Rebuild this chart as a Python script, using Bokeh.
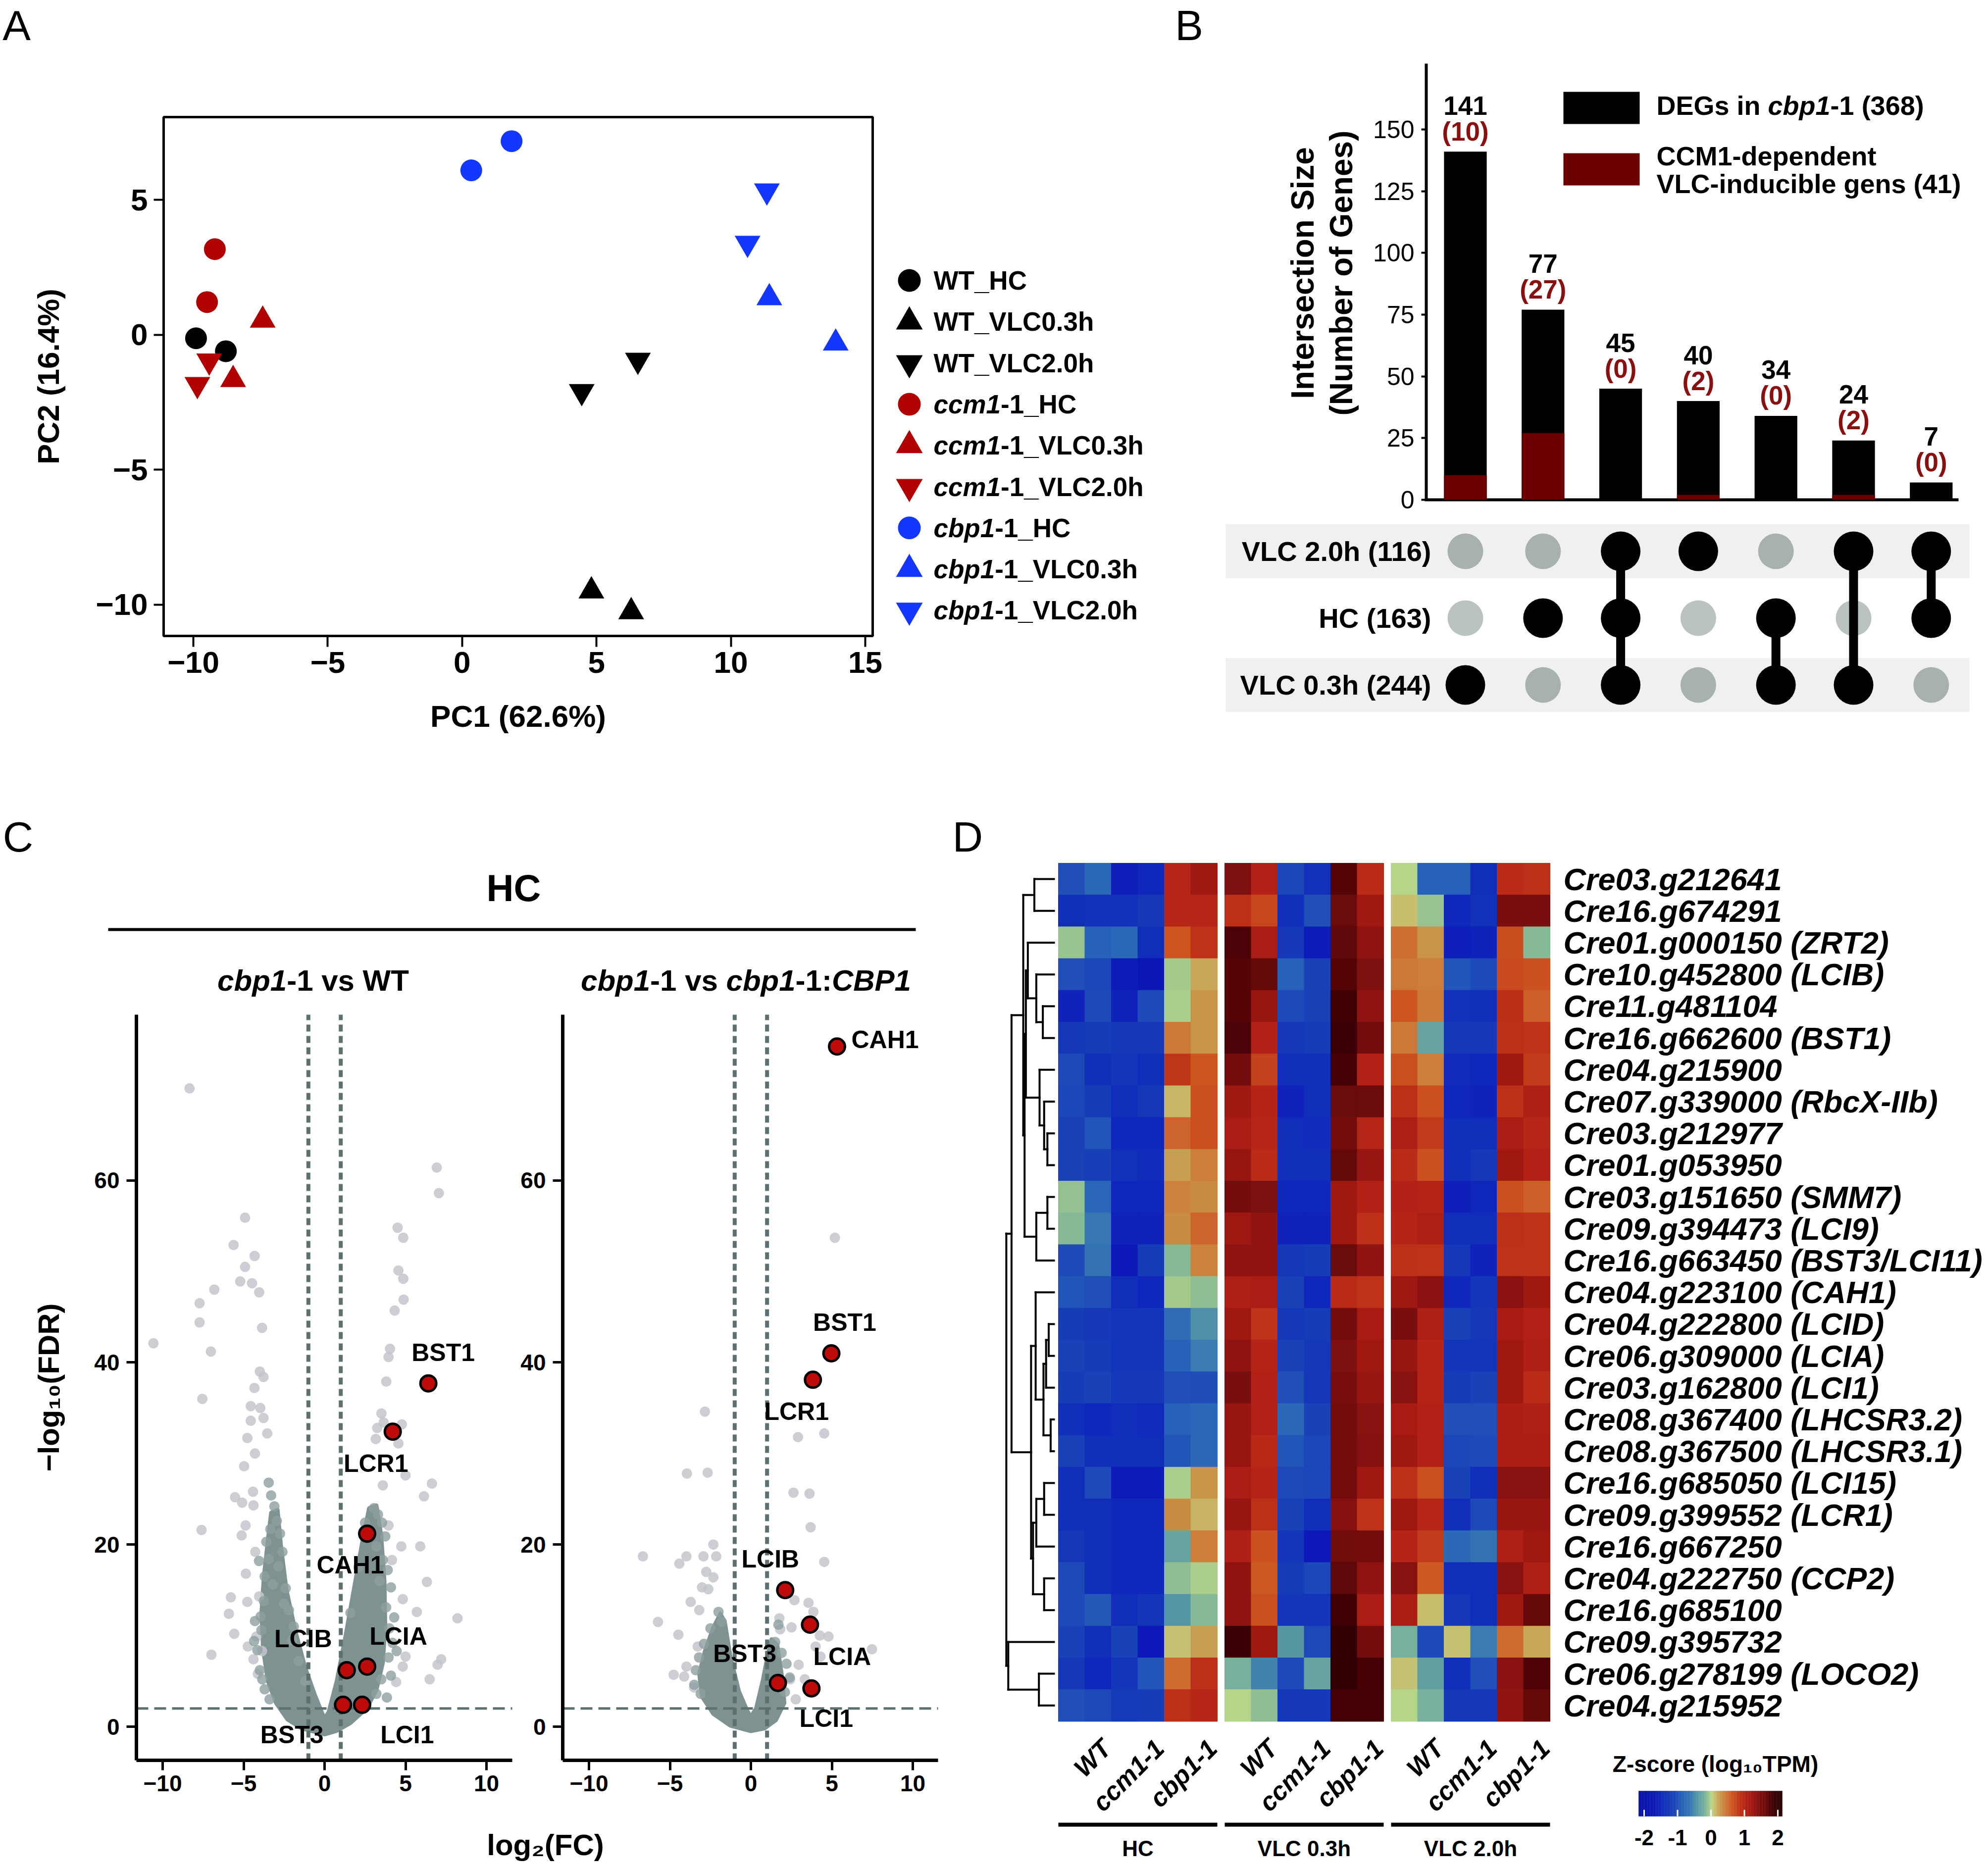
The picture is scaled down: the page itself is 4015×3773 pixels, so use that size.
import numpy as np
from bokeh.plotting import figure
from bokeh.models import Range1d, Label, FixedTicker, ColumnDataSource, LinearAxis
from bokeh.layouts import row, column
from bokeh.embed import file_html
from bokeh.resources import INLINE
from bokeh.transform import linear_cmap

FONT = "Liberation Sans"

# ======================= DATA =======================
# ---- Panel A : PCA ----
pca_groups = ["WT_HC", "WT_VLC0.3h", "WT_VLC2.0h",
              "ccm1-1_HC", "ccm1-1_VLC0.3h", "ccm1-1_VLC2.0h",
              "cbp1-1_HC", "cbp1-1_VLC0.3h", "cbp1-1_VLC2.0h"]
pca_sample_group = [g for g in pca_groups for _ in range(2)]
pca_pc1 = [-9.90, -8.79, 4.81, 6.29, 4.45, 6.54,
           -9.20, -9.49, -7.42, -8.52, -9.41, -9.85,
           0.34, 1.84, 11.43, 13.90, 11.34, 10.62]
pca_pc2 = [-0.13, -0.61, -9.49, -10.26, -2.10, -0.94,
           3.17, 1.21, 0.54, -1.66, -0.97, -1.84,
           6.09, 7.17, 1.37, -0.31, 5.33, 3.39]

# ---- Panel B : UpSet ----
upset_sets = ["VLC 2.0h (116)", "HC (163)", "VLC 0.3h (244)"]
upset_total = [141, 77, 45, 40, 34, 24, 7]
upset_ccm1 = [10, 27, 0, 2, 0, 2, 0]
upset_members = [[2], [1], [0, 1, 2], [0], [1, 2], [0, 2], [0, 1]]

# ---- Panel C : volcano plots ----
vl_grey_x = [-8.34, -10.57, -7.72, -7.72, -6.81, -7.02, -7.55, -7.6, -6.99, -4.91, -5.62, -4.91, -5.21, -4.48,
             -4.32, -4.04, -3.86, -4.0, -3.77, -4.33, -4.56, -3.97, -4.56, -3.77, -3.54, -4.77, -4.3, -4.97,
             -5.53, -5.09, -4.42, -4.39, -4.88, -5.12, -5.79, -5.91, -5.58, -4.77, -4.74, -4.39, -4.21, -4.86,
             -4.28, -4.04, -3.86, -4.12,
             6.93, 7.06, 4.51, 4.86, 4.56, 4.86, 4.88, 4.33, 4.04, 3.95, 3.81, 3.51, 3.65, 4.77, 3.25, 3.16,
             4.56, 5.0, 6.63, 6.14, 3.6, 3.95, 4.74, 5.91, 4.16, 6.32, 8.21, 5.7, 4.83, 5.0, 7.2, 6.98, 6.49,
             4.83, 4.42]
vl_grey_y = [70.1, 42.1, 46.5, 44.4, 48.0, 41.2, 36.0, 21.6, 7.9, 55.9, 52.9, 50.5, 48.9, 48.7,
             51.7, 47.7, 43.8, 39.0, 38.4, 37.2, 35.2, 35.0, 33.6, 33.9, 32.2, 31.7, 30.0, 28.6,
             25.2, 24.6, 25.8, 24.3, 22.1, 21.0, 14.2, 12.4, 10.2, 13.7, 8.8, 7.4, 9.9, 16.8,
             19.2, 14.3, 8.3, 5.8,
             61.4, 58.6, 54.8, 53.7, 50.1, 49.2, 46.9, 45.7, 41.5, 40.6, 37.9, 34.4, 33.4, 33.2, 32.8, 31.6,
             31.1, 27.6, 26.7, 25.3, 26.5, 22.1, 19.8, 19.8, 18.3, 15.9, 11.9, 12.6, 14.0, 7.7, 7.4, 6.8, 5.2,
             6.6, 4.9]
vl_mid_x = [-3.45, -3.3, -3.1, -2.95, -3.35, -2.75, -3.6, -2.6, -3.45, -2.85, -3.7, -3.2, -2.4, -3.75, -3.95,
            -2.2, -3.9, -4.3, -4.15, -4.0, -3.7, -3.4, -2.0, -1.6, -1.2, -4.05, -4.35, -3.85, -2.5, -1.9,
            3.05, 3.3, 3.55, 3.75, 3.2, 3.6, 3.9, 3.4, 4.1, 3.8, 4.3, 4.0, 4.2, 3.95, 3.5, 3.2, 2.5, 2.1, 1.6,
            4.45, 4.1, 3.85]
vl_mid_y = [26.8, 25.4, 24.2, 22.6, 21.7, 21.2, 20.3, 19.2, 18.4, 17.6, 16.5, 15.6, 15.2, 13.8, 12.1,
            12.8, 10.6, 11.6, 8.4, 6.2, 4.1, 3.0, 9.5, 7.2, 5.0, 18.2, 9.4, 5.2, 13.5, 11.0,
            24.0, 23.3, 22.4, 20.9, 19.8, 18.3, 17.2, 16.0, 15.3, 13.1, 12.0, 10.8, 9.2, 7.6, 5.2, 3.6, 22.4,
            17.5, 12.5, 8.3, 5.6, 3.2]
vl_core_x = [0, -1.4, -2.3, -3.0, -3.5, -3.8, -3.9, -3.75, -3.5, -3.3, -2.9, -2.7, -2.35, -1.8, -1.2,
             -0.6, -0.15, 0, 0.25, 0.75, 1.3, 1.85, 2.35, 2.75, 3.2, 3.5, 3.7, 3.75, 3.6, 3.2, 2.6, 1.6, 0.7]
vl_core_y = [-0.85, -0.2, 0.8, 2.6, 5.0, 8.5, 12.5, 16.5, 20.5, 23.5, 23.8, 20.0, 15.0, 10.5, 6.5,
             3.5, 1.5, 0.9, 1.6, 5.0, 10.0, 15.5, 20.5, 24.0, 24.3, 21.0, 16.0, 11.0, 7.0, 4.0, 2.0, 0.4, -0.5]
vl_hl_names = ["BST1", "LCR1", "CAH1", "LCIA", "LCIB", "BST3", "LCI1"]
vl_hl_x = [6.41, 4.21, 2.63, 2.63, 1.37, 1.14, 2.32]
vl_hl_y = [37.7, 32.4, 21.2, 6.6, 6.2, 2.4, 2.4]

vr_grey_x = [5.19, -2.84, -3.95, -2.67, 2.91, 4.53, 2.63, 3.62, 3.69, 4.53, -6.67, -5.74, -4.42, -3.98, -2.93,
             -2.32, -2.14, -2.76, -2.32, -3.02, -3.72, -2.63, -4.48, -3.19, -3.98, -4.77, -4.12, -3.51, -3.28,
             7.48, 4.79, 4.26, 2.69, 3.56, 3.86, 4.0, 2.95, 3.33, 1.76, 1.81, 2.51, 4.3, 2.42, 2.77]
vr_grey_y = [53.7, 34.6, 27.8, 27.9, 31.8, 32.2, 25.7, 25.6, 21.9, 18.1, 18.7, 11.5, 17.9, 18.7, 18.7,
             20.0, 18.7, 17.0, 16.4, 15.3, 13.7, 15.1, 10.1, 12.8, 6.6, 5.7, 5.5, 4.3, 8.8,
             8.5, 9.9, 10.0, 13.9, 13.6, 12.6, 8.8, 6.8, 5.2, 11.9, 10.7, 10.9, 7.7, 5.2, 3.0]
vr_mid_x = [-2.0, -1.8, -2.5, -2.9, -3.2, -3.4, -3.5, -3.1, 1.5, 1.9, 2.2, 2.4, 2.1, 1.7]
vr_mid_y = [12.6, 11.5, 10.8, 9.1, 7.6, 6.2, 4.6, 3.6, 9.3, 8.1, 6.9, 5.4, 3.8, 11.2]
vr_core_x = [0, -1.26, -2.32, -3.02, -3.19, -2.84, -2.32, -1.88, -1.61, -1.26, -0.74, -0.21, 0, 0.32,
             0.75, 1.02, 1.28, 1.63, 1.9, 2.07, 1.54, 0.84]
vr_core_y = [-0.5, 0.1, 1.4, 3.3, 5.8, 8.3, 10.9, 12.4, 11.5, 7.7, 3.9, 1.7, 1.1, 2.0,
             5.2, 7.7, 9.6, 9.0, 5.8, 2.6, 0.7, -0.2]
vr_hl_names = ["CAH1", "BST1", "LCR1", "LCIB", "LCIA", "BST3", "LCI1"]
vr_hl_x = [5.32, 4.97, 3.83, 2.12, 3.65, 1.67, 3.74]
vr_hl_y = [74.7, 41.0, 38.1, 15.0, 11.2, 4.8, 4.2]

# ---- Panel D : heatmap ----
heat_genes = ["Cre03.g212641", "Cre16.g674291", "Cre01.g000150 (ZRT2)", "Cre10.g452800 (LCIB)",
              "Cre11.g481104", "Cre16.g662600 (BST1)", "Cre04.g215900", "Cre07.g339000 (RbcX-IIb)",
              "Cre03.g212977", "Cre01.g053950", "Cre03.g151650 (SMM7)", "Cre09.g394473 (LCI9)",
              "Cre16.g663450 (BST3/LCI11)", "Cre04.g223100 (CAH1)", "Cre04.g222800 (LCID)",
              "Cre06.g309000 (LCIA)", "Cre03.g162800 (LCI1)", "Cre08.g367400 (LHCSR3.2)",
              "Cre08.g367500 (LHCSR3.1)", "Cre16.g685050 (LCI15)", "Cre09.g399552 (LCR1)",
              "Cre16.g667250", "Cre04.g222750 (CCP2)", "Cre16.g685100", "Cre09.g395732",
              "Cre06.g278199 (LOCO2)", "Cre04.g215952"]
heat_conditions = ["HC", "VLC 0.3h", "VLC 2.0h"]
heat_strains = ["WT", "ccm1-1", "cbp1-1"]
# z-scores, columns WT, WT, ccm1-1, ccm1-1, cbp1-1, cbp1-1
heat_z_hc = [
    [-1.0, -0.8, -1.6, -1.5, 1.0, 1.25], [-1.4, -1.35, -1.35, -1.25, 1.0, 1.0],
    [-0.08, -0.85, -0.8, -1.4, 0.65, 0.88], [-1.0, -1.1, -1.65, -1.8, -0.05, 0.22],
    [-1.55, -1.05, -1.55, -1.05, -0.02, 0.3], [-1.25, -1.2, -1.25, -1.25, 0.45, 0.3],
    [-1.05, -1.4, -1.3, -1.4, 0.85, 0.65], [-1.1, -1.2, -1.4, -1.25, 0.15, 0.68],
    [-1.15, -0.95, -1.5, -1.5, 0.55, 0.68], [-1.15, -1.18, -1.35, -1.45, 0.25, 0.42],
    [-0.1, -0.82, -1.5, -1.5, 0.4, 0.35], [-0.15, -0.65, -1.55, -1.55, 0.35, 0.55],
    [-1.05, -0.68, -1.7, -1.2, -0.15, 0.4], [-0.95, -1.0, -1.4, -1.5, -0.05, -0.12],
    [-1.2, -1.25, -1.3, -1.3, -0.75, -0.45], [-1.15, -1.2, -1.3, -1.3, -0.85, -0.6],
    [-1.2, -1.15, -1.25, -1.25, -1.0, -1.02], [-1.4, -1.5, -1.4, -1.45, -0.85, -0.78],
    [-1.15, -1.4, -1.4, -1.4, -0.95, -0.78], [-1.4, -1.05, -1.65, -1.65, -0.02, 0.3],
    [-1.4, -1.4, -1.5, -1.5, 0.35, 0.17], [-1.25, -1.4, -1.5, -1.5, -0.3, 0.42],
    [-1.05, -1.4, -1.5, -1.5, -0.12, -0.02], [-1.05, -0.92, -1.4, -1.3, -0.42, -0.15],
    [-1.15, -1.4, -1.15, -1.7, 0.1, 0.25], [-1.25, -1.5, -1.3, -0.95, 0.52, 0.9],
    [-1.0, -1.08, -1.22, -1.2, 0.9, 0.98]]
heat_z_vlc03 = [
    [1.45, 1.05, -1.1, -1.35, 1.75, 0.95], [0.9, 0.75, -1.4, -1.0, 1.6, 1.25],
    [1.8, 1.15, -1.25, -1.65, 1.7, 1.35], [1.75, 1.65, -0.85, -1.15, 1.75, 1.45],
    [1.75, 1.3, -1.05, -1.15, 1.88, 1.35], [1.8, 1.05, -1.25, -1.2, 1.92, 1.55],
    [1.55, 0.78, -1.4, -1.4, 1.85, 1.05], [1.25, 1.02, -1.55, -1.4, 1.6, 1.6],
    [1.15, 1.0, -1.4, -1.45, 1.55, 1.0], [1.3, 0.95, -1.4, -1.4, 1.65, 1.3],
    [1.55, 1.45, -1.5, -1.5, 1.25, 1.08], [1.25, 1.35, -1.55, -1.55, 1.25, 0.9],
    [1.35, 1.35, -1.25, -1.2, 1.6, 1.35], [1.1, 1.15, -1.15, -1.5, 0.95, 0.88],
    [1.25, 0.88, -1.25, -1.2, 1.55, 1.18], [1.35, 1.03, -1.15, -1.25, 1.45, 1.25],
    [1.5, 1.05, -1.0, -1.25, 1.5, 1.3], [1.3, 1.05, -0.78, -1.15, 1.55, 1.4],
    [1.3, 0.97, -0.95, -1.1, 1.55, 1.42], [1.15, 1.02, -1.05, -1.1, 1.55, 1.25],
    [1.3, 0.9, -1.15, -1.4, 1.42, 0.88], [1.1, 0.66, -1.3, -1.7, 1.58, 1.55],
    [1.35, 0.62, -1.2, -1.1, 1.7, 1.35], [1.35, 0.68, -1.3, -1.3, 1.88, 1.15],
    [1.92, 1.25, -0.4, -1.08, 2.0, 1.55], [-0.2, -0.55, -1.05, -0.3, 2.0, 1.83],
    [0.0, -0.12, -1.25, -1.25, 1.85, 1.85]]
heat_z_vlc20 = [
    [0.0, -0.85, -0.85, -1.4, 0.95, 0.9], [0.12, -0.08, -1.5, -1.35, 1.5, 1.5],
    [0.5, 0.3, -1.6, -1.55, 0.7, -0.15], [0.45, 0.42, -0.95, -1.05, 0.72, 0.66],
    [0.65, 0.45, -1.35, -1.4, 0.92, 0.6], [0.45, -0.3, -1.25, -1.25, 0.9, 0.88],
    [0.68, 0.42, -1.45, -1.5, 1.25, 0.82], [0.9, 0.66, -1.5, -1.55, 0.9, 1.1],
    [1.1, 0.82, -1.4, -1.4, 1.15, 1.0], [0.93, 0.66, -1.4, -1.25, 1.25, 1.05],
    [1.05, 1.02, -1.6, -1.5, 0.68, 0.6], [1.03, 1.1, -1.4, -1.4, 0.9, 0.88],
    [0.9, 0.88, -1.25, -1.55, 0.88, 0.88], [1.25, 1.38, -1.5, -1.3, 1.38, 1.25],
    [1.5, 1.1, -1.15, -1.25, 1.18, 1.05], [1.3, 1.03, -1.3, -1.3, 1.25, 1.1],
    [1.4, 1.03, -1.2, -1.15, 1.25, 0.93], [1.18, 1.05, -1.0, -1.0, 1.12, 1.1],
    [1.25, 1.05, -1.1, -1.05, 1.12, 1.12], [0.9, 0.68, -1.15, -1.4, 1.4, 1.4],
    [1.25, 1.0, -1.4, -1.05, 1.3, 1.3], [1.03, 0.82, -0.78, -0.68, 1.1, 1.25],
    [1.4, 0.62, -1.4, -1.4, 1.4, 1.1], [1.12, 0.12, -1.25, -1.4, 1.25, 1.65],
    [-0.2, -1.05, 0.1, -0.6, 0.53, 0.22], [0.1, -0.35, -1.4, -1.0, 1.38, 1.78],
    [0.0, -0.2, -1.25, -1.25, 1.35, 1.65]]
# row dendrogram: (child_a, child_b, height); leaves 0..26, new nodes numbered from 27
dendro_merges = [(0, 1, 30), (4, 5, 17), (3, 28, 27), (2, 29, 40), (8, 9, 10), (7, 31, 15), (6, 32, 22),
                 (30, 33, 43), (10, 11, 10), (35, 12, 27), (34, 36, 45), (27, 37, 47), (14, 15, 8),
                 (39, 16, 12), (17, 18, 5), (40, 41, 16), (13, 42, 28), (19, 20, 15), (44, 21, 27),
                 (22, 23, 15), (45, 46, 32), (43, 47, 35), (38, 48, 65), (25, 26, 23), (24, 50, 70),
                 (49, 51, 73)]
zscore_ticks = [-2, -1, 0, 1, 2]

# ======================= STYLE HELPERS =======================
CW = {' ': .278, '(': .333, ')': .333, '-': .333, '.': .278, ':': .333, '/': .278, '_': .556, '%': .889,
      '\u2212': .584}
for ch in "0123456789":
    CW[ch] = .556
CW.update({'a': .556, 'b': .611, 'c': .556, 'd': .611, 'e': .556, 'f': .333, 'g': .611, 'h': .611, 'i': .278,
           'j': .278, 'k': .556, 'l': .278, 'm': .889, 'n': .611, 'o': .611, 'p': .611, 'q': .611, 'r': .389,
           's': .556, 't': .333, 'u': .611, 'v': .556, 'w': .778, 'x': .556, 'y': .556, 'z': .5,
           'A': .722, 'B': .722, 'C': .722, 'D': .722, 'E': .667, 'F': .611, 'G': .778, 'H': .722, 'I': .278,
           'J': .556, 'K': .722, 'L': .611, 'M': .833, 'N': .722, 'O': .778, 'P': .667, 'Q': .778, 'R': .722,
           'S': .667, 'T': .611, 'U': .722, 'V': .667, 'W': .944, 'X': .667, 'Y': .667, 'Z': .611})


def tw(s, size):
    return sum(CW.get(c, 0.6) for c in s) * size


def txt(p, x, y, text, size, style="bold", align="center", baseline="middle", color="black", angle=0.0, **kw):
    p.add_layout(Label(x=x, y=y, text=text, text_font=FONT, text_font_size=f"{size}px",
                       text_font_style=style, text_color=color, text_align=align,
                       text_baseline=baseline, angle=angle, **kw))


def mtext(p, x, y, segs, size, align="center", color="black", **kw):
    total = sum(tw(t, size) for t, _ in segs)
    acc = {"left": 0.0, "center": -total / 2.0, "right": -total}[align]
    for t, st in segs:
        p.add_layout(Label(x=x, y=y, x_offset=acc, text=t, text_font=FONT, text_font_size=f"{size}px",
                           text_font_style=st, text_color=color, text_align="left", text_baseline="middle",
                           **kw))
        acc += tw(t, size)


def fig(w, h, xr, yr, axes=True, **kw):
    args = dict(width=w, height=h, x_range=Range1d(*xr), y_range=Range1d(*yr), output_backend="svg",
                toolbar_location=None, min_border_left=0, min_border_right=0, min_border_top=0,
                min_border_bottom=0)
    if not axes:
        args.update(x_axis_type=None, y_axis_type=None)
    args.update(kw)
    p = figure(**args)
    p.outline_line_color = None
    p.background_fill_color = "white"
    p.border_fill_color = "white"
    if axes:
        p.grid.visible = False
    return p


def style_axis(ax, size, style="bold", tick_out=20, tick_w=4, line_w=0, standoff=12,
               label=None, label_size=60, label_standoff=10):
    ax.major_label_text_font = FONT
    ax.major_label_text_font_size = f"{size}px"
    ax.major_label_text_font_style = style
    ax.major_label_text_color = "black"
    ax.major_tick_out = tick_out
    ax.major_tick_in = 0
    ax.major_tick_line_width = tick_w
    ax.major_tick_line_color = "black"
    ax.minor_tick_line_color = None
    if line_w:
        ax.axis_line_width = line_w
        ax.axis_line_color = "black"
    else:
        ax.axis_line_color = None
    ax.major_label_standoff = standoff
    if label is not None:
        ax.axis_label = label
        ax.axis_label_text_font = FONT
        ax.axis_label_text_font_size = f"{label_size}px"
        ax.axis_label_text_font_style = "bold"
        ax.axis_label_text_color = "black"
        ax.axis_label_standoff = label_standoff


MINUS = {-10: "\u221210", -5: "\u22125"}

# ======================= PANEL A (PCA + legend) =======================
AXPX, AYPX = 54.28, 54.53
WA = 2360
ax_ = lambda px: -10 + (px - 390) / AXPX
ay_ = lambda py: 5 - (py - 403) / AYPX
pA = fig(WA, 1560, (ax_(0), ax_(WA)), (ay_(1560), ay_(0)))
BOX = dict(l=ax_(330), r=ax_(1762), b=ay_(1284), t=ay_(236))
pA.quad(left=[BOX["l"]], right=[BOX["r"]], bottom=[BOX["b"]], top=[BOX["t"]], fill_color=None,
        line_color="black", line_width=5)
pA.xaxis.fixed_location = BOX["b"]
pA.yaxis.fixed_location = BOX["l"]
pA.xaxis.bounds = (BOX["l"], BOX["r"])
pA.yaxis.bounds = (BOX["b"], BOX["t"])
pA.xaxis.ticker = FixedTicker(ticks=[-10, -5, 0, 5, 10, 15])
pA.yaxis.ticker = FixedTicker(ticks=[-10, -5, 0, 5])
pA.xaxis.major_label_overrides = MINUS
pA.yaxis.major_label_overrides = MINUS
style_axis(pA.xaxis[0], 62, tick_out=22, standoff=10, label="PC1 (62.6%)", label_size=62, label_standoff=50)
style_axis(pA.yaxis[0], 62, tick_out=20, standoff=12, label="PC2 (16.4%)", label_size=62, label_standoff=58)

MARK = {"HC": "circle", "VLC0.3h": "triangle", "VLC2.0h": "inverted_triangle"}
MSIZE = {"HC": 44, "VLC0.3h": 52, "VLC2.0h": 52}
GCOL = {"WT": "#000000", "ccm1-1": "#B00000", "cbp1-1": "#1437FF"}
srcA = ColumnDataSource(dict(
    x=pca_pc1, y=pca_pc2,
    marker=[MARK[g.split("_")[1]] for g in pca_sample_group],
    size=[MSIZE[g.split("_")[1]] for g in pca_sample_group],
    color=[GCOL[g.split("_")[0]] for g in pca_sample_group]))
pA.scatter(x="x", y="y", marker="marker", size="size", fill_color="color", line_color=None, source=srcA)
txt(pA, ax_(33), ay_(51), "A", 85, style="normal")
for i, g in enumerate(pca_groups):
    yy = ay_(566 + 83.3 * i)
    geno, cond = g.split("_")
    pA.scatter([ax_(1836)], [yy], marker=MARK[cond], size=MSIZE[cond] + 2, fill_color=GCOL[geno],
               line_color=None)
    if geno == "WT":
        segs = [(g, "bold")]
    else:
        segs = [(geno[:-2], "bold italic"), (geno[-2:] + "_" + cond, "bold")]
    mtext(pA, ax_(1885), yy, segs, 53, align="left")

# ======================= PANEL B (UpSet) =======================
BPX = 156.8       # px per intersection
BPY = 4.987       # px per gene
bx = lambda px: 1 + (px - 2959) / BPX
by = lambda py: (1009 - py) / BPY
br = lambda py: (py - 1113) / 135.0
pB = fig(4015 - WA, 1560, (bx(WA), bx(4015)), (by(1560), by(0)), x_axis_location=None)
pB.extra_y_ranges = {"rows": Range1d(br(1560), br(0))}
pB.yaxis.fixed_location = bx(2880)
pB.yaxis.bounds = (0, by(128))
pB.yaxis.ticker = FixedTicker(ticks=[0, 25, 50, 75, 100, 125, 150])
style_axis(pB.yaxis[0], 50, style="normal", tick_out=10, tick_w=4, line_w=6, standoff=14)
xs = list(range(1, len(upset_total) + 1))
pB.segment(x0=[bx(2877)], x1=[bx(3955)], y0=[0], y1=[0], line_color="black", line_width=6)
pB.vbar(x=xs, top=upset_total, width=0.55, fill_color="black", line_color=None)
pB.vbar(x=xs, top=upset_ccm1, width=0.55, fill_color="#6B0000", line_color=None)
for xi, t, c in zip(xs, upset_total, upset_ccm1):
    txt(pB, xi, t + 93 / BPY, str(t), 53)
    txt(pB, xi, t + 41 / BPY, f"({c})", 53, color="#8A1010")
pB.quad(left=[bx(3157)], right=[bx(3311)], top=[by(185)], bottom=[by(250)], fill_color="black", line_color=None)
pB.quad(left=[bx(3157)], right=[bx(3311)], top=[by(309)], bottom=[by(374)], fill_color="#6B0000",
        line_color=None)
mtext(pB, bx(3345), by(212), [("DEGs in ", "bold"), ("cbp1", "bold italic"), ("-1 (368)", "bold")], 54,
      align="left")
mtext(pB, bx(3345), by(314), [("CCM1-dependent", "bold")], 54, align="left")
mtext(pB, bx(3345), by(370), [("VLC-inducible gens (41)", "bold")], 54, align="left")
txt(pB, bx(2630), by(551), "Intersection Size", 64, angle=np.pi / 2)
txt(pB, bx(2708), by(551), "(Number of Genes)", 64, angle=np.pi / 2)
txt(pB, bx(2401), by(51), "B", 85, style="normal")

# matrix
pB.hbar(y=[0, 2], left=bx(2475), right=bx(3977), height=109 / 135.0, fill_color="#F0F0F2", line_color=None,
        y_range_name="rows")
for xi, mem in zip(xs, upset_members):
    for r in range(len(upset_sets)):
        if r not in mem:
            pB.scatter([xi], [r], size=72, fill_color="#BAC2C2" if r == 1 else "#A7B2B0", line_color=None,
                       y_range_name="rows")
    if len(mem) > 1:
        pB.segment(x0=[xi], x1=[xi], y0=[min(mem)], y1=[max(mem)], line_color="black", line_width=18,
                   y_range_name="rows")
    pB.scatter([xi] * len(mem), mem, size=80, fill_color="black", line_color=None, y_range_name="rows")
for r, s in enumerate(upset_sets):
    txt(pB, bx(2890), r, s, 56, align="right", y_range_name="rows")

# ======================= PANEL C (volcano plots) =======================
VPX, VPY = 32.7, 18.39
pC = fig(1920, 2213, (0, 1920), (3773, 1560), axes=False)
v1 = lambda px: (px - 655) / VPX
v2 = lambda px: (px - 1516) / VPX
vy = lambda py: (3487 - py) / VPY
pC.extra_x_ranges = {"v1": Range1d(v1(0), v1(1920)), "v2": Range1d(v2(0), v2(1920))}
pC.extra_y_ranges = {"vy": Range1d(vy(3773), vy(1560))}

txt(pC, 36, 1690, "C", 85, style="normal")
txt(pC, 1037, 1793, "HC", 76)
pC.segment(x0=[218], x1=[1849], y0=[1877], y1=[1877], line_color="black", line_width=6)
mtext(pC, 632, 1980, [("cbp1", "bold italic"), ("-1 vs WT", "bold")], 60)
mtext(pC, 1506, 1980, [("cbp1", "bold italic"), ("-1 vs ", "bold"), ("cbp1", "bold italic"), ("-1:", "bold"),
                       ("CBP1", "bold italic")], 60)
txt(pC, 1101, 3726, "log\u2082(FC)", 60)

LBL_OFF_L = {"BST1": (30, 62), "LCR1": (-34, -64), "CAH1": (-34, -63), "LCIA": (63, 61),
             "LCIB": (-88, 63), "BST3": (-103, -61), "LCI1": (91, -61)}
LBL_OFF_R = {"CAH1": (29, 14), "BST1": (27, 63), "LCR1": (-33, -64), "LCIB": (-30, 63),
             "LCIA": (65, -64), "BST3": (-67, 59), "LCI1": (30, -61)}


def volcano(xr, fx, left_px, right_px, gx, gy, mx, my, cx, cy, names, hx, hy, offs, ylabel, left_names=()):
    xlo, xhi = fx(left_px), fx(right_px)
    ylo, yhi = vy(3555), vy(2049)
    rn = dict(x_range_name=xr, y_range_name="vy")
    xa = LinearAxis(fixed_location=ylo, bounds=(xlo, xhi), ticker=FixedTicker(ticks=[-10, -5, 0, 5, 10]),
                    major_label_overrides=MINUS, **rn)
    ya = LinearAxis(fixed_location=xlo, bounds=(ylo, yhi), ticker=FixedTicker(ticks=[0, 20, 40, 60]), **rn)
    style_axis(xa, 46, tick_out=20, tick_w=5, line_w=7, standoff=10)
    style_axis(ya, 46, tick_out=20, tick_w=5, line_w=7, standoff=14,
               label=ylabel, label_size=60, label_standoff=55)
    if ylabel is None:
        ya.axis_label = None
    pC.add_layout(xa, "below")
    pC.add_layout(ya, "left")
    pC.patch(cx, cy, fill_color="#7E9292", line_color="#7E9292", line_width=8, line_join="round", **rn)
    pC.scatter(gx, gy, size=21, fill_color="#C3C6CD", fill_alpha=0.85, line_color=None, **rn)
    pC.scatter(mx, my, size=21, fill_color="#8E9FA0", fill_alpha=0.8, line_color=None, **rn)
    pC.segment(x0=[-1, 1], x1=[-1, 1], y0=[ylo, ylo], y1=[yhi, yhi], line_color="#5D7070",
               line_width=8, line_dash="14 9", **rn)
    pC.segment(x0=[xlo], x1=[xhi], y0=[2], y1=[2], line_color="#5D7070", line_width=5, line_dash="24 12", **rn)
    pC.scatter(hx, hy, size=32, fill_color="#BF0A0A", line_color="black", line_width=5, **rn)
    for n, x, y in zip(names, hx, hy):
        dx, dy = offs[n]
        txt(pC, x + dx / VPX, y + dy / VPY, n, 50, align="left" if n in left_names else "center", **rn)


volcano("v1", v1, 275, 1034, vl_grey_x, vl_grey_y, vl_mid_x, vl_mid_y, vl_core_x, vl_core_y,
        vl_hl_names, vl_hl_x, vl_hl_y, LBL_OFF_L, "\u2212log\u2081\u2080(FDR)")
volcano("v2", v2, 1136, 1894, vr_grey_x, vr_grey_y, vr_mid_x, vr_mid_y, vr_core_x, vr_core_y,
        vr_hl_names, vr_hl_x, vr_hl_y, LBL_OFF_R, None, left_names=("CAH1",))

# ======================= PANEL D (heatmap) =======================
CWD, RHD = 53.5, 64.2
dx_ = lambda px: (px - 2137) / CWD
dy_ = lambda py: (py - 1743) / RHD
pD = fig(2095, 2213, (dx_(1920), dx_(4015)), (dy_(3773), dy_(1560)), axes=False)
GAP = 15 / CWD

anchors = [(-2.2, "#0810a8"), (-1.7, "#0c18b8"), (-1.5, "#1028bc"), (-1.25, "#1438b8"), (-1.0, "#2050b8"),
           (-0.8, "#2a68b8"), (-0.6, "#3a7ab2"), (-0.4, "#5898a2"), (-0.2, "#78b09c"), (-0.05, "#a0c88c"),
           (0.02, "#bcd888"), (0.12, "#c8bc6c"), (0.3, "#c89448"), (0.45, "#cc7a38"), (0.65, "#cc5420"),
           (0.9, "#bc3018"), (1.05, "#b42216"), (1.25, "#a01812"), (1.45, "#801010"), (1.65, "#680a0a"),
           (1.85, "#440005"), (2.0, "#300005"), (2.2, "#280004")]
az = [a for a, _ in anchors]
argb = np.array([[int(c[i:i + 2], 16) for i in (1, 3, 5)] for _, c in anchors], dtype=float)
zgrid = np.linspace(-2.2, 2.2, 256)
PAL = ["#%02x%02x%02x" % tuple(int(round(np.interp(z, az, argb[:, k]))) for k in range(3)) for z in zgrid]
cmap = linear_cmap("z", PAL, -2.2, 2.2)

hx, hy, hz = [], [], []
for g, block in enumerate([heat_z_hc, heat_z_vlc03, heat_z_vlc20]):
    for r, vals in enumerate(block):
        for j, v in enumerate(vals):
            hx.append(g * (6 + GAP) + j + 0.5)
            hy.append(r + 0.5)
            hz.append(v)
pD.rect(x="x", y="y", width=1, height=1, source=ColumnDataSource(dict(x=hx, y=hy, z=hz)),
        fill_color=cmap, line_color=cmap, line_width=1)

# dendrogram
LEAF_X = dx_(2128)
HSC = 1.317 / CWD
pos = {i: (LEAF_X, i + 0.5) for i in range(len(heat_genes))}
sx0, sx1, sy0, sy1 = [], [], [], []
for k, (a, b, h) in enumerate(dendro_merges):
    xa, ya = pos[a]
    xb, yb = pos[b]
    xh = LEAF_X - h * HSC
    sx0 += [xa, xb, xh]
    sx1 += [xh, xh, xh]
    sy0 += [ya, yb, ya]
    sy1 += [ya, yb, yb]
    pos[len(heat_genes) + k] = (xh, (ya + yb) / 2)
pD.segment(x0=sx0, x1=sx1, y0=sy0, y1=sy1, line_color="black", line_width=4, line_cap="square")

for r, gname in enumerate(heat_genes):
    txt(pD, dx_(3157), r + 0.5, gname, 63, style="bold italic", align="left")

for g, cond in enumerate(heat_conditions):
    gl = g * (6 + GAP)
    for s, strain in enumerate(heat_strains):
        txt(pD, gl + 2 * s + 1 + 44 / CWD, dy_(3522), strain, 52, style="bold italic",
            align="right", angle=np.pi / 4)
    pD.segment(x0=[gl], x1=[gl + 6], y0=[dy_(3685)], y1=[dy_(3685)], line_color="black", line_width=8)
    txt(pD, gl + 3, dy_(3733), cond, 44)

# colour key
zl, zr = -2 - 11 / 67.5, -2 + 279 / 67.5
edges = np.linspace(zl, zr, 121)
zpx = lambda z: dx_(3320 + (z + 2) * 67.5)
pD.quad(left="l", right="r", top="t", bottom="b",
        source=ColumnDataSource(dict(l=[zpx(z) for z in edges[:-1]], r=[zpx(z) for z in edges[1:]],
                                     t=[dy_(3617)] * 120, b=[dy_(3668)] * 120,
                                     z=list((edges[:-1] + edges[1:]) / 2))),
        fill_color=cmap, line_color=cmap, line_width=0.5)
tick_x = [zpx(z) for z in zscore_ticks]
pD.segment(x0=tick_x, x1=tick_x, y0=[dy_(3655)] * 5, y1=[dy_(3668)] * 5, line_color="white", line_width=3)
for z, xt in zip(zscore_ticks, tick_x):
    txt(pD, xt, dy_(3711), str(z), 44)
txt(pD, dx_(3464), dy_(3562), "Z-score (log\u2081\u2080TPM)", 46)
txt(pD, dx_(1954), dy_(1690), "D", 85, style="normal")

# ======================= LAYOUT =======================
layout = column(row(pA, pB), row(pC, pD))
open("out.html", "w").write(file_html(layout, INLINE, title="figure"))
